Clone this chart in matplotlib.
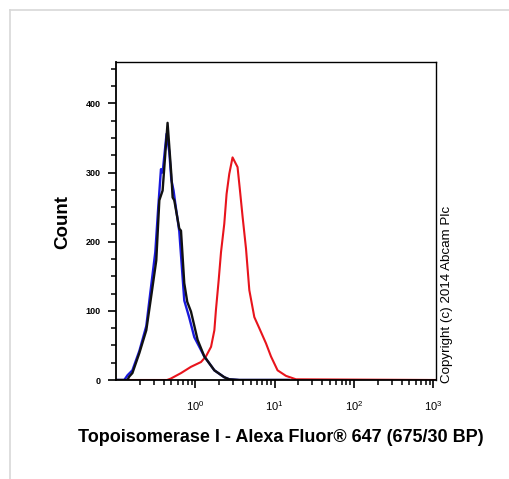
import matplotlib
matplotlib.use("Agg")
import matplotlib.pyplot as plt
import numpy as np
from matplotlib.lines import Line2D
from matplotlib.ticker import FixedLocator, LogLocator, NullFormatter, MultipleLocator

plt.rcParams['font.family'] = ['Liberation Sans', 'DejaVu Sans']
plt.rcParams['mathtext.fontset'] = 'custom'
plt.rcParams['mathtext.rm'] = 'Liberation Sans'

# histogram traces (fluorescence intensity, count)
red_x = [0.1, 0.44, 0.49, 0.66, 0.88, 1.18, 1.36, 1.58, 1.74, 1.82, 1.97, 2.11, 2.32, 2.48,
         2.68, 2.95, 3.41, 3.66, 3.95, 4.36, 4.8, 5.55, 6.41, 7.79, 9.01, 10.9, 13.9, 18.6, 1085]
red_y = [0, 0, 2, 10, 19, 26, 34, 48, 72, 101, 144, 185, 226, 269,
         298, 322, 308, 274, 236, 190, 130, 91, 75, 53, 34, 14, 6, 1, 0]

blue_x = [0.1, 0.127, 0.14, 0.161, 0.197, 0.241, 0.27, 0.313, 0.341, 0.369, 0.387, 0.434,
          0.47, 0.498, 0.532, 0.56, 0.628, 0.726, 0.84, 0.971, 1.3, 1.74, 2.32, 2.68, 3.6, 15]
blue_y = [0, 0, 7, 14, 42, 78, 125, 185, 250, 305, 300, 356,
          330, 290, 274, 255, 215, 115, 90, 62, 34, 14, 4, 1, 0, 0]

black_x = [0.1, 0.139, 0.147, 0.161, 0.197, 0.241, 0.281, 0.322, 0.352, 0.387, 0.447, 0.498,
           0.518, 0.543, 0.628, 0.66, 0.726, 0.792, 0.882, 1.07, 1.3, 1.74, 2.32, 2.68, 3.6, 15]
black_y = [0, 0, 5, 10, 39, 72, 125, 173, 260, 274, 372, 298,
           264, 260, 219, 216, 140, 113, 99, 58, 34, 14, 4, 1, 0, 0]

x_decades = [1, 10, 100, 1000]
y_major = [0, 100, 200, 300, 400]

fig = plt.figure(figsize=(5.1, 4.79), dpi=100)

# light grey frame of the picture
fig.add_artist(Line2D([10/510, 10/510], [0, 1 - 10/479], color='#d8d8d8', lw=1.2))
fig.add_artist(Line2D([10/510, 1], [1 - 10/479, 1 - 10/479], color='#d8d8d8', lw=1.2))

ax = fig.add_axes([116/510, 1 - 380/479, 320/510, 318/479])
ax.plot(red_x, red_y, color='#e8141c', lw=1.5)
ax.plot(blue_x, blue_y, color='#1a1adc', lw=1.7)
ax.plot(black_x, black_y, color='#111111', lw=1.7)

ax.set_xscale('log')
ax.set_xlim(0.1, 1085)
ax.set_ylim(0, 460)

ax.xaxis.set_major_locator(FixedLocator(x_decades))
ax.xaxis.set_minor_locator(LogLocator(base=10, subs=np.arange(2, 10), numticks=20))
ax.xaxis.set_minor_formatter(NullFormatter())
ax.set_xticklabels([r'$10^{%d}$' % int(np.log10(v)) for v in x_decades])
ax.set_yticks(y_major)
ax.yaxis.set_minor_locator(MultipleLocator(25))

ax.tick_params(axis='both', which='major', direction='out', length=6, width=1.2,
               labelsize=6.5, pad=5)
ax.tick_params(axis='x', which='major', labelsize=8, pad=8)
ax.tick_params(axis='both', which='minor', direction='out', length=3.5, width=1.1)
for lab in ax.get_yticklabels():
    lab.set_fontweight('bold')

for s in ax.spines.values():
    s.set_linewidth(1.0)
ax.spines['left'].set_linewidth(1.3)
ax.spines['bottom'].set_linewidth(1.3)

fig.text(281/510, 1 - 437/479, 'Topoisomerase I - Alexa Fluor\u00ae 647 (675/30 BP)',
         ha='center', va='center', fontsize=13, fontweight='bold')
fig.text(63/510, 1 - 222/479, 'Count', rotation=90, ha='center', va='center',
         fontsize=13.5, fontweight='bold')
fig.text(447/510, 1 - 383/479, 'Copyright (c) 2014 Abcam Plc', rotation=90,
         ha='center', va='bottom', fontsize=9.6)

fig.savefig('out.png', dpi=100)
